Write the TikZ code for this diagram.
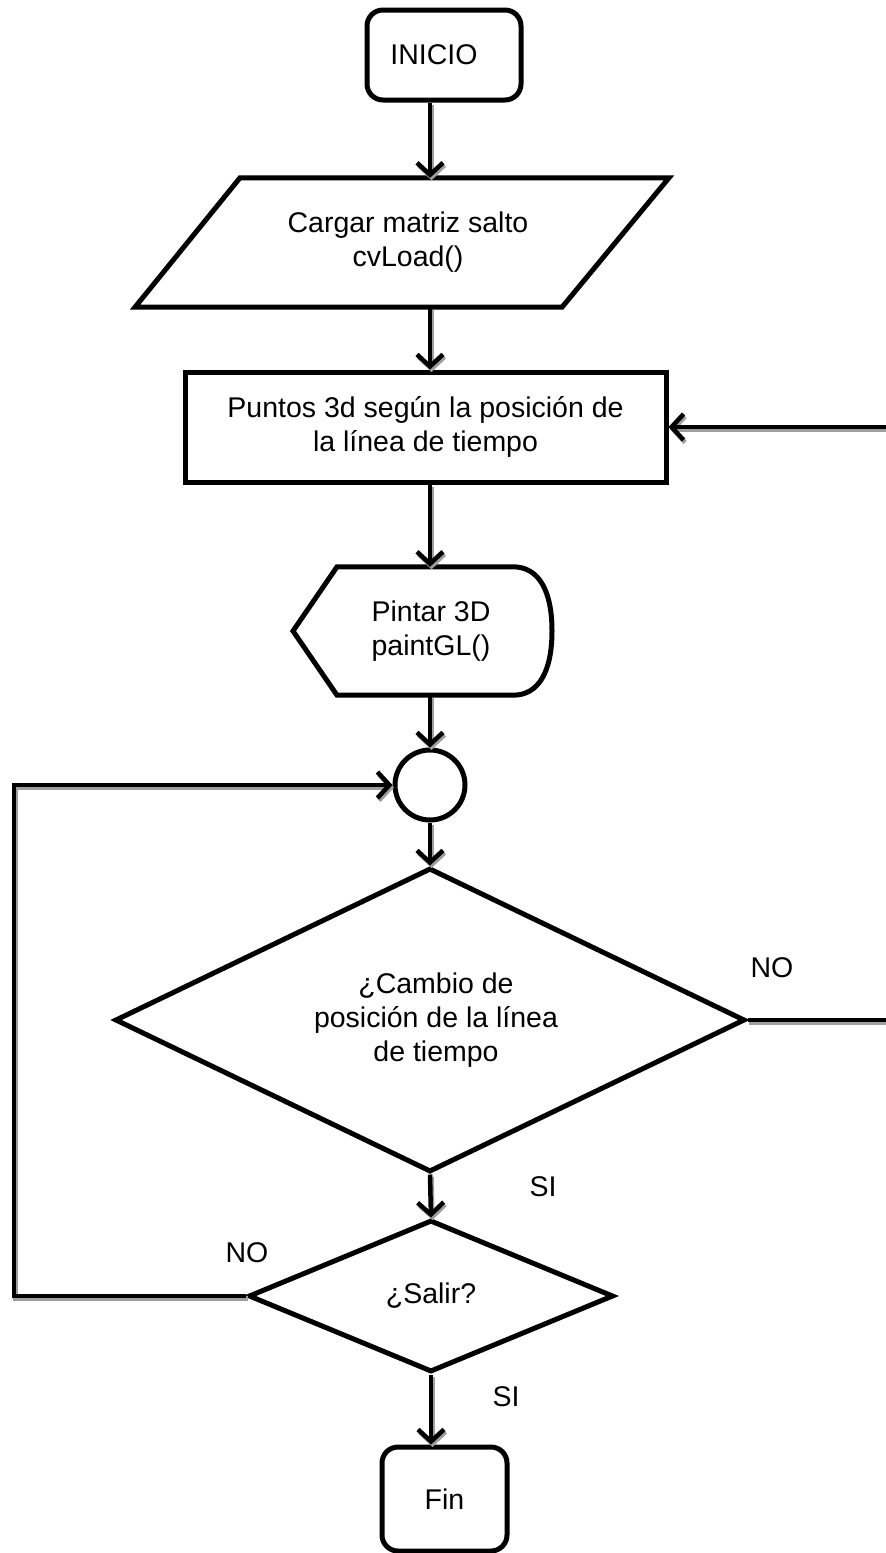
\documentclass[tikz,border=0pt]{standalone}
\usepackage{fontspec}
\setmainfont{Liberation Sans}
\usetikzlibrary{arrows.meta,calc,shapes.geometric}
\begin{document}
\begin{tikzpicture}[x=1pt,y=-1pt,
  font=\fontsize{28.5pt}{34pt}\selectfont,
  outline/.style={draw=black,line width=5pt,line join=miter},
  txt/.style={align=center,inner sep=0pt},
  terminal/.style={txt,draw=black,line width=5pt,rounded corners=16pt},
  decision/.style={txt,draw=black,line width=5pt,diamond,shape aspect=2},
  flow/.style={line width=4.5pt,
    -{Straight Barb[length=12pt,width=26pt,line width=4.5pt]},
    preaction={draw=black!38,line width=4.5pt,
      -{Straight Barb[length=12pt,width=26pt,line width=4.5pt]},
      transform canvas={shift={(1.5pt,-2.5pt)}}}},
  lbl/.style={inner sep=0pt}
]
\useasboundingbox (0,0) rectangle (886,1553);
\clip (0,0) rectangle (886,1553);

% main vertical axis and the two side rails
\coordinate (ax) at (430,0);
\coordinate (rt) at (920,0);
\coordinate (lf) at (14,0);

% start
\node[terminal,minimum width=154pt,minimum height=90pt] (start) at (444,55) {INICIO\hspace*{20pt}};

% data input (parallelogram)
\node[txt,minimum height=129pt] (load) at (408,242.5) {Cargar matriz salto\\cvLoad()};
\draw[outline] ($(load.north)+(-168,0)$) -- ($(load.north)+(261,0)$)
  -- ($(load.south)+(154,0)$) -- ($(load.south)+(-273,0)$) -- cycle;

% process
\node[txt,draw=black,line width=5pt,minimum width=481pt,minimum height=110pt] (pts) at (425.5,427)
  {Puntos 3d según la posición de\\la línea de tiempo};

% display
\node[txt,minimum height=128pt] (disp) at (431,631) {Pintar 3D\\paintGL()};
\draw[outline] ($(disp.north)+(-94,0)$) -- ($(disp.north)+(82,0)$)
  .. controls ($(disp.north)+(108,0)$) and ($(disp)+(121,-40)$) .. ($(disp)+(121,0)$)
  .. controls ($(disp)+(121,40)$) and ($(disp.south)+(108,0)$) .. ($(disp.south)+(82,0)$)
  -- ($(disp.south)+(-94,0)$) -- ($(disp)+(-138,0)$) -- cycle;

% connector
\node[circle,draw=black,line width=5pt,minimum size=70pt,inner sep=0pt] (circ) at (430,785) {};

% decisions
\node[decision,minimum width=630pt,minimum height=304pt] (cam) at (430,1020)
  {\hspace*{12pt}¿Cambio de\\\hspace*{12pt}posición de la línea\\\hspace*{12pt}de tiempo};
\node[decision,minimum width=365pt,minimum height=152pt] (sal) at (431,1296) {¿Salir?};

% end
\node[terminal,minimum width=125pt,minimum height=104pt] (fin) at (444.5,1499) {Fin};

% labels
\node[lbl] (lno1) at (772,968) {NO};
\node[lbl] (lsi1) at (543,1187) {SI};
\node[lbl] (lno2) at (247,1253) {NO};
\node[lbl] (lsi2) at (506,1397) {SI};

% flow lines
\draw[flow] (start.south -| ax) -- (load.north -| ax);
\draw[flow] (load.south -| ax) -- (pts.north -| ax);
\draw[flow] (pts.south -| ax) -- (disp.north -| ax);
\draw[flow] (disp.south -| ax) -- (circ.north);
\draw[flow] (circ.south) -- (cam.north);
\draw[flow] (cam.south) -- (sal.north);
\draw[flow] (sal.south) -- (fin.north -| sal.south);
\draw[flow] (cam.east) -- (rt |- cam.east) -- (rt |- pts.east) -- (pts.east);
\draw[flow] (sal.west) -- (lf |- sal.west) -- (lf |- circ.west) -- (circ.west);
\end{tikzpicture}
\end{document}
